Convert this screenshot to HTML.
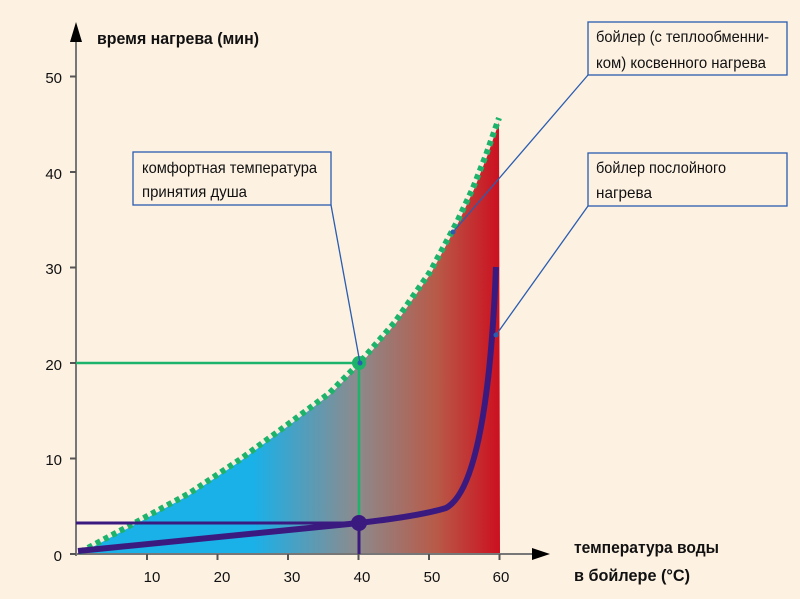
<!DOCTYPE html>
<html><head><meta charset="utf-8"><style>
html,body{margin:0;padding:0;background:#fdf1e2;}
svg{display:block;}
text{font-family:"Liberation Sans",sans-serif;fill:#111;}
</style></head><body>
<svg width="800" height="599" viewBox="0 0 800 599" xmlns="http://www.w3.org/2000/svg">
<defs>
<linearGradient id="g" x1="76" y1="0" x2="500" y2="0" gradientUnits="userSpaceOnUse">
<stop offset="0" stop-color="#1ab0e8"/>
<stop offset="0.42" stop-color="#1ab0e8"/>
<stop offset="0.66" stop-color="#8b8b8e"/>
<stop offset="0.85" stop-color="#b85a48"/>
<stop offset="1" stop-color="#cc1020"/>
</linearGradient>
</defs>
<rect width="800" height="599" fill="#fdf1e2"/>
<polygon fill="url(#g)" points="78,554 82.7,550.7 136,522.3 189.3,493.3 239.3,460 289.3,423.3 329.3,393.3 359.3,363 395,322 430,272 457,222 473,188 486,155 499,118 500,554"/>
<line x1="76" y1="556" x2="76" y2="40" stroke="#777" stroke-width="2"/>
<polygon points="70,42 82,42 76,22" fill="#000"/>
<line x1="72" y1="554" x2="535" y2="554" stroke="#777" stroke-width="2"/>
<polygon points="532,548 532,560 550,554" fill="#000"/>
<g stroke="#555" stroke-width="2">
<line x1="70" y1="554" x2="76" y2="554"/><line x1="70" y1="458.5" x2="76" y2="458.5"/><line x1="70" y1="363" x2="76" y2="363"/><line x1="70" y1="267.5" x2="76" y2="267.5"/><line x1="70" y1="172" x2="76" y2="172"/><line x1="70" y1="76.5" x2="76" y2="76.5"/>
<line x1="147" y1="554" x2="147" y2="560"/><line x1="217.5" y1="554" x2="217.5" y2="560"/><line x1="288" y1="554" x2="288" y2="560"/><line x1="358.5" y1="554" x2="358.5" y2="560"/><line x1="429" y1="554" x2="429" y2="560"/><line x1="499.5" y1="554" x2="499.5" y2="560"/>
</g>
<g font-size="15" text-anchor="end">
<text x="62" y="561">0</text><text x="62" y="465">10</text><text x="62" y="370">20</text><text x="62" y="274">30</text><text x="62" y="179">40</text><text x="62" y="83">50</text>
</g>
<g font-size="15" text-anchor="middle">
<text x="152" y="582">10</text><text x="222" y="582">20</text><text x="292" y="582">30</text><text x="362" y="582">40</text><text x="432" y="582">50</text><text x="501" y="582">60</text>
</g>
<text x="97" y="44" font-size="17" font-weight="bold" textLength="162" lengthAdjust="spacingAndGlyphs">время нагрева (мин)</text>
<text x="574" y="553" font-size="17" font-weight="bold" textLength="145" lengthAdjust="spacingAndGlyphs">температура воды</text>
<text x="574" y="581" font-size="17" font-weight="bold" textLength="116" lengthAdjust="spacingAndGlyphs">в бойлере (°С)</text>
<line x1="76" y1="363" x2="359" y2="363" stroke="#1db36a" stroke-width="2.5"/>
<line x1="359" y1="363" x2="359" y2="523" stroke="#1db36a" stroke-width="2.5"/>
<polyline fill="none" stroke="#f3ecdc" stroke-width="3" points="80,552 82.7,550.7 136,522.3 189.3,493.3 239.3,460 289.3,423.3 329.3,393.3 359.3,363 395,322 430,272 457,222 473,188 486,155 499,118"/>
<polyline fill="none" stroke="#1db36a" stroke-width="6" stroke-dasharray="5 4" points="80,552 82.7,550.7 136,522.3 189.3,493.3 239.3,460 289.3,423.3 329.3,393.3 359.3,363 395,322 430,272 457,222 473,188 486,155 499,118"/>
<line x1="76" y1="523" x2="359" y2="523" stroke="#3b1a80" stroke-width="3"/>
<line x1="359" y1="523" x2="359" y2="554" stroke="#3b1a80" stroke-width="3"/>
<path d="M78,551 L359,523 Q420,516 446,508 C472,494 490,420 496,267" fill="none" stroke="#3b1a80" stroke-width="6"/>
<circle cx="359" cy="523" r="8" fill="#3b1a80"/>
<circle cx="359" cy="363" r="7" fill="#1db36a"/>
<g stroke="#2a5db0" stroke-width="1.3" fill="#fdf1e2">
<line x1="331" y1="205" x2="360" y2="363"/>
<line x1="588" y1="75" x2="453" y2="232"/>
<line x1="588" y1="206" x2="496" y2="335"/>
<rect x="133" y="152" width="198" height="53"/>
<rect x="588" y="22" width="199" height="53"/>
<rect x="588" y="153" width="199" height="53"/>
</g>
<circle cx="360" cy="363" r="2.5" fill="#2a5db0"/>
<circle cx="453" cy="232" r="2.5" fill="#2a5db0"/>
<circle cx="496" cy="335" r="2.5" fill="#2a5db0"/>
<g font-size="16">
<text x="142" y="173" textLength="175" lengthAdjust="spacingAndGlyphs">комфортная температура</text>
<text x="142" y="197" textLength="105" lengthAdjust="spacingAndGlyphs">принятия душа</text>
<text x="596" y="42" textLength="173" lengthAdjust="spacingAndGlyphs">бойлер (с теплообменни-</text>
<text x="596" y="68" textLength="170" lengthAdjust="spacingAndGlyphs">ком) косвенного нагрева</text>
<text x="596" y="173" textLength="130" lengthAdjust="spacingAndGlyphs">бойлер послойного</text>
<text x="596" y="198" textLength="56" lengthAdjust="spacingAndGlyphs">нагрева</text>
</g>
</svg>
</body></html>
